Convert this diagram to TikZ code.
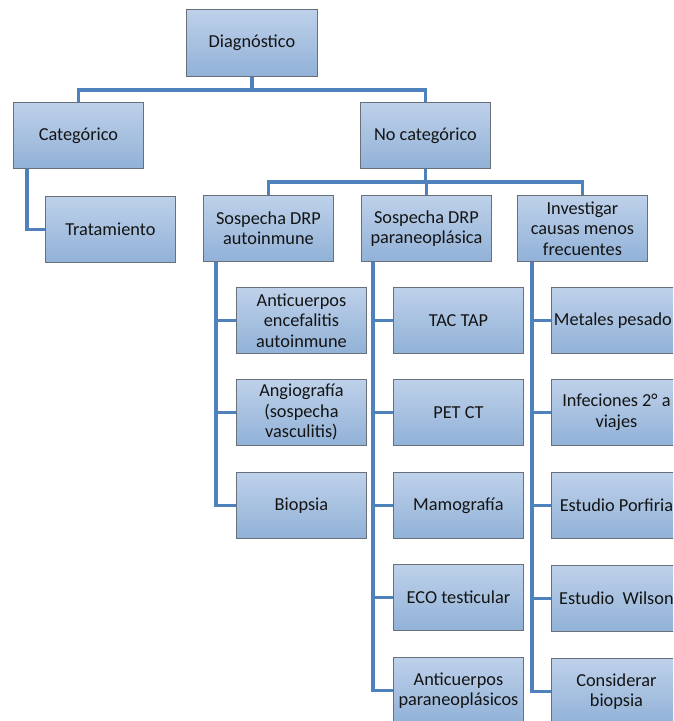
\documentclass[tikz,border=0pt]{standalone}
\usepackage{fontspec}
\setmainfont{Carlito}
\definecolor{conn}{RGB}{79,129,189}
\definecolor{boxtop}{RGB}{190,209,234}
\definecolor{boxbot}{RGB}{145,177,215}
\definecolor{boxline}{RGB}{105,112,122}
\definecolor{txt}{RGB}{20,20,20}
\begin{document}
\begin{tikzpicture}[x=1pt,y=-1pt,
  box/.style={draw=boxline,line width=0.9pt,top color=boxtop,bottom color=boxbot,
    minimum width=130pt,minimum height=66pt,anchor=north west,align=center,
    inner sep=2pt,font=\fontsize{18.3}{20.5}\selectfont,text=txt},
  link/.style={draw=conn,line width=3.2pt}]
\useasboundingbox (0,0) rectangle (673,721);
\clip (0,0) rectangle (673,721);
\fill[white] (0,0) rectangle (673,721);
% top levels
\node[box,minimum width=131pt,minimum height=67pt] (diag) at (186,9) {Diagnóstico};
\node[box] (cat) at (13,102) {Categórico};
\node[box] (trat) at (45,196) {Tratamiento};
\node[box] (nocat) at (360,102) {No categórico};
\node[box] (sda) at (203,195) {Sospecha DRP\\autoinmune};
\node[box] (sdp) at (361,195) {Sospecha DRP\\paraneoplásica};
\node[box] (inv) at (517,195) {Investigar\\causas menos\\frecuentes};
% autoinmune children
\node[box] (a1) at (236,287) {Anticuerpos\\encefalitis\\autoinmune};
\node[box] (a2) at (236,379) {Angiografía\\(sospecha\\vasculitis)};
\node[box] (a3) at (236,472) {Biopsia};
% paraneoplasica children
\node[box] (p1) at (393,287) {TAC TAP};
\node[box] (p2) at (393,379) {PET CT};
\node[box] (p3) at (393,472) {Mamografía};
\node[box] (p4) at (393,564) {ECO testicular};
\node[box] (p5) at (393,657) {Anticuerpos\\paraneoplásicos};
% investigar children
\node[box] (i1) at (551,287) {Metales pesado\phantom{s}};
\node[box] (i2) at (551,379) {Infeciones 2° a\\viajes};
\node[box] (i3) at (551,472) {Estudio Porfiria};
\node[box] (i4) at (551,565) {Estudio\ \ Wilson};
\node[box] (i5) at (551,658) {Considerar\\biopsia};
% connectors
\coordinate (b1) at (0,90);
\coordinate (b2) at (0,182);
\draw[link] (diag.south) -- (diag.south |- b1);
\draw[link] (cat.north) -- (cat.north |- b1) -- (nocat.north |- b1) -- (nocat.north);
\draw[link] ([xshift=14pt]cat.south west) |- (trat.west);
\draw[link] (nocat.south) -- (nocat.south |- b2);
\draw[link] (sda.north) -- (sda.north |- b2) -- (inv.north |- b2) -- (inv.north);
\draw[link] (sdp.north) -- (sdp.north |- b2);
% autoinmune branch
\draw[link] ([xshift=13pt]sda.south west) coordinate (va) |- (a3.west);
\draw[link] (a1.west) -- (a1.west -| va);
\draw[link] (a2.west) -- (a2.west -| va);
% paraneoplasica branch
\draw[link] ([xshift=12pt]sdp.south west) coordinate (vp) |- (p5.west);
\draw[link] (p1.west) -- (p1.west -| vp);
\draw[link] (p2.west) -- (p2.west -| vp);
\draw[link] (p3.west) -- (p3.west -| vp);
\draw[link] (p4.west) -- (p4.west -| vp);
% investigar branch
\draw[link] ([xshift=15pt]inv.south west) coordinate (vi) |- (i5.west);
\draw[link] (i1.west) -- (i1.west -| vi);
\draw[link] (i2.west) -- (i2.west -| vi);
\draw[link] (i3.west) -- (i3.west -| vi);
\draw[link] (i4.west) -- (i4.west -| vi);
\end{tikzpicture}
\end{document}
